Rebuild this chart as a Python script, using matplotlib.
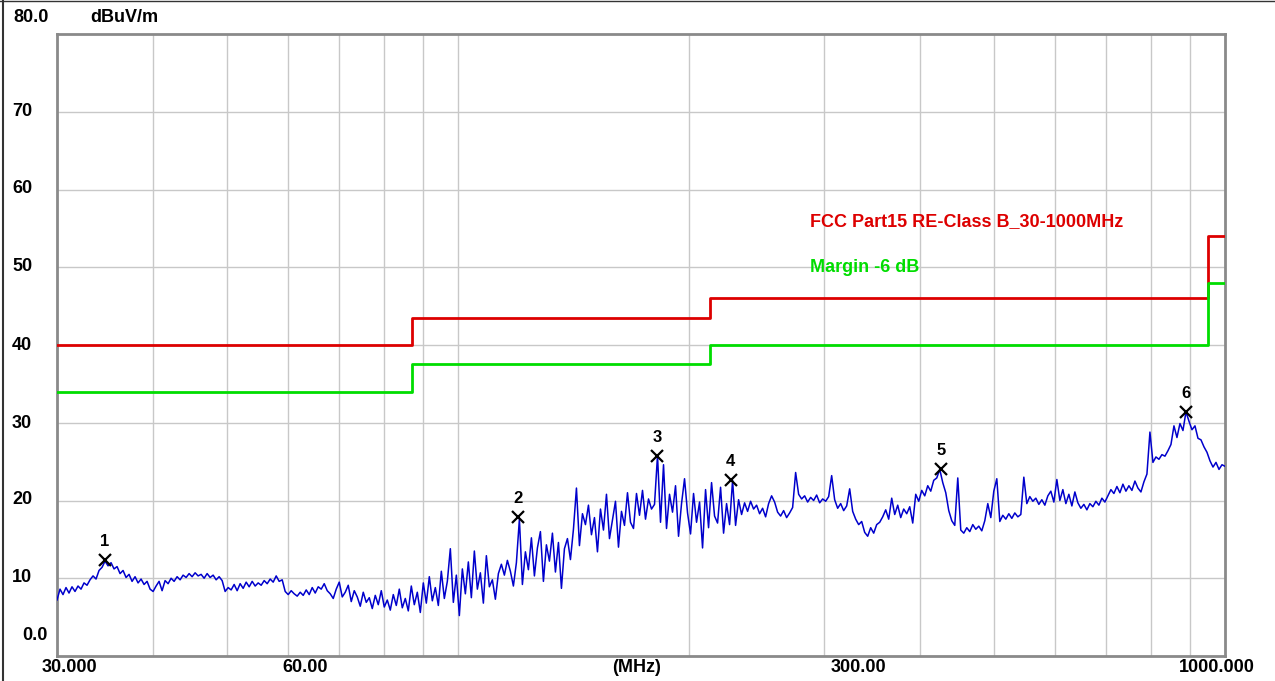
import numpy as np
import matplotlib.pyplot as plt
from matplotlib.lines import Line2D

# limit line (FCC Part15 class B) and margin line, step edges in MHz
limit_freq = [30, 87, 213, 950, 1000]
limit_level = [40, 43.5, 46, 54, 54]
margin_db = 6

# markers
marker_freq = [34.6, 119.7, 181.7, 226.8, 426, 889]
marker_level = [12.3, 17.9, 25.7, 22.6, 24.0, 31.4]
marker_name = ['1', '2', '3', '4', '5', '6']

level = [
    # 30 - 35 MHz
    7.2, 8.6, 7.9, 8.8, 8.1, 8.9, 8.3, 9.0, 8.6, 9.4, 9.1, 9.8, 10.3, 9.9, 11.0, 11.4, 12.2,
    11.6, 12.0, 11.2, 11.5, 10.6, 11.0, 10.1, 10.5, 9.6, 10.2, 9.4, 9.9, 9.2, 9.6, 8.6, 8.3,
    # 40 - 50 MHz
    9.0, 9.6, 8.4, 9.7, 9.3, 10.0, 9.6, 10.2, 9.8, 10.4, 10.1, 10.6, 10.2, 10.7, 10.3, 10.5,
    10.0, 10.6, 10.1, 10.4, 9.8, 10.2, 9.7,
    8.3, 8.8, 8.5, 9.2, 8.4, 9.3, 8.7, 9.5, 8.9, 9.6, 9.0, 9.4, 9.1, 9.7, 9.3, 9.9, 9.5, 10.3, 9.6, 9.8,
    # 60 - 80 MHz
    8.3, 7.9, 8.4, 8.0, 7.7, 8.2, 7.8, 8.5, 7.9, 8.8, 8.1, 8.9, 8.6, 9.3, 8.4, 8.0, 7.4, 8.6, 9.5, 7.6,
    8.2, 9.1, 7.0, 8.4,
    7.6, 6.4, 8.2, 6.9, 7.5, 6.1, 7.8, 6.6, 8.4, 6.3, 7.2, 5.9, 7.9, 6.5, 8.6, 6.2, 7.4, 5.8, 9.0, 6.6,
    # 88 - 120 MHz
    8.2, 5.6, 9.4, 6.8, 10.2, 7.1, 8.8, 6.5, 10.9, 7.4, 9.6, 13.8, 6.9, 10.4, 5.2, 11.2, 8.0, 12.1,
    7.5, 13.5, 8.6, 10.7, 6.8, 12.9, 8.9, 9.8, 7.3, 10.6,
    11.8, 10.4, 12.3, 10.9, 9.0, 12.0, 17.6,
    # 120 - 180 MHz
    9.2, 13.4, 11.1, 15.2, 10.3, 13.9, 16.0, 9.6, 14.3, 12.2, 15.8, 10.8, 14.6, 8.7, 13.8, 15.1, 12.4, 16.3,
    21.6, 14.2, 18.3, 16.9, 19.4, 15.6, 17.8, 13.4, 18.9, 16.2, 20.8, 15.1, 17.5, 19.9, 14.0, 18.6,
    16.8, 21.0, 17.2,
    16.4, 20.9, 18.1, 21.3, 17.6, 20.2, 18.9, 19.5, 25.8,
    # 180 - 300 MHz
    17.2, 24.6, 16.4, 20.8, 18.5, 21.9, 15.4, 19.6, 22.8,
    18.4, 15.7, 20.9, 17.2, 19.8, 13.9, 21.4, 16.5, 22.3, 18.0, 17.1, 21.7, 15.8, 19.6, 16.9, 22.6,
    16.8, 20.1, 18.2, 19.7, 18.6, 19.9, 18.9, 19.4, 18.3, 19.0, 17.9, 19.6, 20.6, 19.8, 18.5, 18.0,
    18.7, 17.8, 18.4, 19.1,
    # 300 - 430 MHz
    23.6, 20.8, 20.2, 20.6, 19.8, 20.4, 20.0, 20.7, 19.7, 20.2, 19.9, 20.5, 23.2, 20.1,
    19.0, 19.6, 18.7, 19.3, 21.5, 18.6,
    17.6, 16.9, 17.3, 15.9, 15.4, 16.5, 15.8, 16.9, 17.2,
    17.9, 18.8, 17.6, 20.3, 18.2, 19.4, 17.8, 18.9, 18.3, 19.2, 17.1,
    20.8, 19.9, 21.3, 20.6, 21.9, 21.2, 22.6, 22.9, 24.0,
    # 430 - 700 MHz
    22.3, 21.0, 18.7, 17.4, 16.8, 22.9,
    16.2, 15.8, 16.5, 16.0, 16.9, 16.3, 16.7, 16.1,
    17.4, 19.6, 17.8, 21.2, 22.8, 17.3, 18.1, 17.6, 18.3, 17.7, 18.4, 17.9, 18.2, 23.0,
    19.6, 20.5, 19.9, 20.3, 19.5, 20.1, 19.4, 20.6, 21.2, 19.8, 22.7, 20.0, 21.4, 19.6, 20.8,
    19.3, 21.1, 19.7,
    19.0, 19.5, 18.8, 19.6, 19.2, 19.9, 19.4, 20.3, 19.8,
    # 700 - 1000 MHz
    20.6, 21.4, 20.9, 21.8, 21.0, 22.1, 21.2, 21.9, 21.3, 22.5, 21.6, 21.1, 22.4, 23.4, 28.8,
    24.9, 25.6, 25.3, 25.9, 25.7, 26.4,
    27.2, 29.6, 28.1, 29.9, 29.0, 31.4,
    30.2, 29.1, 29.6, 28.0, 27.8, 26.9, 26.2,
    25.1, 24.3, 24.9, 24.0, 24.6, 24.4,
]
# sweep points, log spaced from 30 to 1000 MHz
freq = np.geomspace(30, 1000, len(level))

W, H = 1275, 681
fig = plt.figure(figsize=(W / 100, H / 100), dpi=100)
ax = fig.add_axes([57 / W, (H - 656) / H, 1168 / W, 622 / H])

ax.set_xscale('log')
ax.set_xlim(30, 1000)
ax.set_ylim(0, 80)

# grid
grid_x = [40, 50, 60, 70, 80, 90, 100, 200, 300, 400, 500, 600, 700, 800, 900]
ax.set_xticks(grid_x)
ax.set_xticks([], minor=True)
ax.set_yticks(range(10, 80, 10))
ax.grid(True, color='#c8c8c8', linewidth=1.0)
ax.tick_params(length=0, labelbottom=False, labelleft=False)
for s in ax.spines.values():
    s.set_color('#8a8a8a')
    s.set_linewidth(2.0)

red = '#dd0000'
green = '#00dd00'
ax.step(limit_freq, limit_level, where='post', color=red, linewidth=2.0, zorder=3)
ax.step(limit_freq, [v - margin_db for v in limit_level], where='post', color=green,
        linewidth=2.0, zorder=3)
ax.plot(freq, level, color='#0000cc', linewidth=1.1, zorder=4)

ax.plot(marker_freq, marker_level, linestyle='none', marker='x', markersize=9,
        markeredgewidth=1.6, color='black', zorder=5)
for f, v, name in zip(marker_freq, marker_level, marker_name):
    ax.annotate(name, (f, v), xytext=(0, 8), textcoords='offset points', ha='center',
                va='bottom', fontsize=12, fontweight='bold', family='Liberation Sans', zorder=6)

font = dict(fontsize=13, fontweight='bold', family='Liberation Sans')


def ftext(x, y, s, **kw):
    opts = dict(font)
    opts.update(kw)
    fig.text(x / W, 1 - y / H, s, va='center', **opts)


# y labels
ftext(13, 18, '80.0')
for v, y in zip([70, 60, 50, 40, 30, 20, 10], [111, 189, 267, 345, 423, 500, 578]):
    ftext(12, y, str(v))
ftext(48, 635, '0.0', ha='right')
ftext(90, 18, 'dBuV/m')

# x labels
ftext(69, 667, '30.000', ha='center')
ftext(305, 667, '60.00', ha='center')
ftext(637, 667, '(MHz)', ha='center')
ftext(858, 667, '300.00', ha='center')
ftext(1217, 667, '1000.000', ha='center')

# legend texts
ftext(810, 222, 'FCC Part15 RE-Class B_30-1000MHz', color=red)
ftext(810, 268, 'Margin -6 dB', color=green)

# window edge
fig.add_artist(Line2D([3 / W, 3 / W], [0, 1], color='#333333', linewidth=1.5))
fig.add_artist(Line2D([0, 1], [1 - 0.5 / H, 1 - 0.5 / H], color='#333333', linewidth=1.0))

fig.savefig('out.png', dpi=100)
